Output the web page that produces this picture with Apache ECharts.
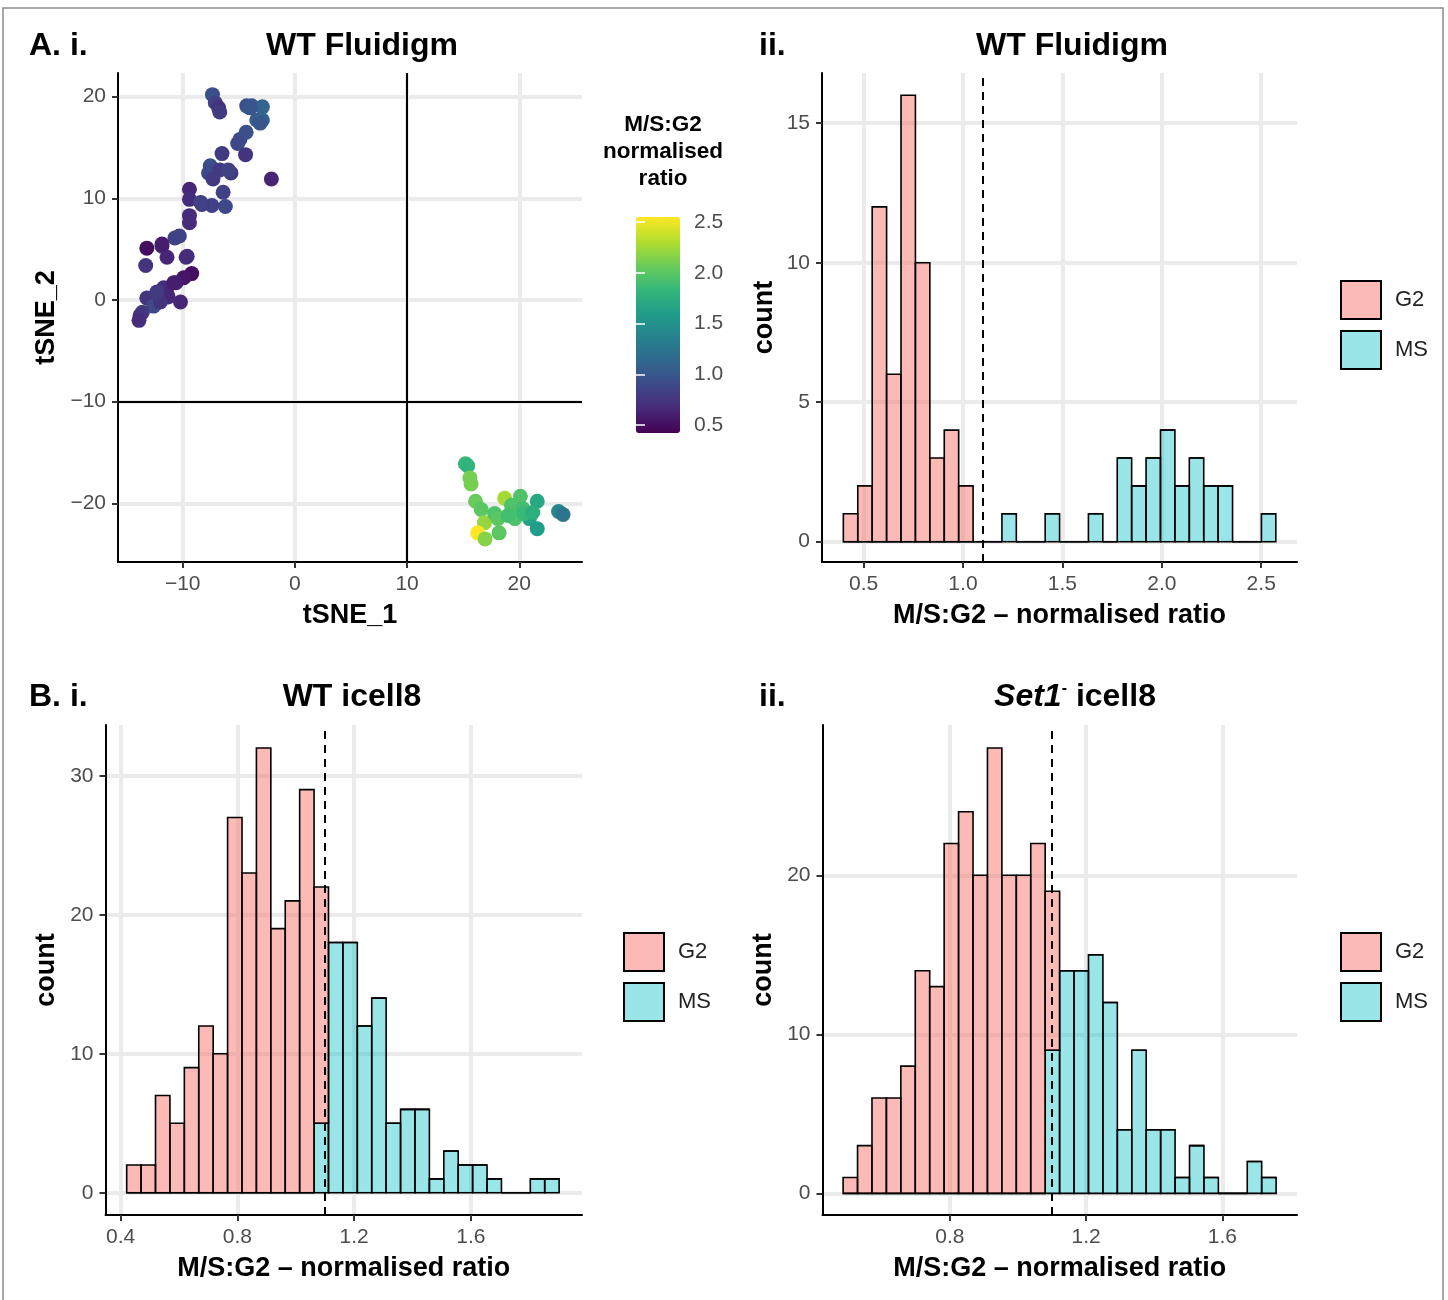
<!DOCTYPE html>
<html>
<head>
<meta charset="utf-8">
<script src="https://cdn.jsdelivr.net/npm/echarts@6/dist/echarts.min.js"></script>
<style>
  html, body { margin: 0; padding: 0; background: #fff; }
  #chart { width: 1448px; height: 1300px; }
</style>
</head>
<body>
<div id="chart"></div>
<script>
// A.i  tSNE of WT Fluidigm cells: [tSNE_1, tSNE_2, M/S:G2 ratio]
const upperCells = [
  [-7.35, 20.2, 0.95], [-7.1, 19.4, 0.85], [-6.8, 18.9, 0.75], [-6.7, 18.5, 0.8],
  [-4.3, 19.1, 0.95], [-3.85, 19.1, 1.0], [-2.9, 19.0, 1.1], [-3.4, 17.7, 1.05],
  [-2.9, 17.7, 1.1], [-3.1, 17.4, 1.0], [-4.35, 16.5, 0.95], [-4.9, 15.8, 0.95],
  [-5.1, 15.4, 0.9], [-4.4, 14.3, 0.75], [-6.5, 14.4, 0.8], [-2.1, 11.9, 0.65],
  [-7.55, 13.2, 0.95], [-7.7, 12.5, 0.9], [-7.3, 11.9, 0.8], [-6.7, 12.8, 0.8],
  [-5.7, 12.5, 0.8], [-5.95, 12.8, 0.85], [-6.4, 10.6, 0.85], [-6.2, 9.2, 0.9],
  [-7.4, 9.3, 0.85], [-8.3, 9.4, 0.8], [-9.4, 10.9, 0.65], [-9.4, 9.9, 0.7],
  [-9.4, 8.3, 0.7], [-9.4, 7.6, 0.7], [-10.7, 6.1, 0.85], [-10.3, 6.3, 0.85],
  [-11.85, 5.3, 0.7], [-13.2, 5.1, 0.5], [-11.4, 4.2, 0.65], [-9.7, 4.2, 0.75],
  [-13.3, 3.4, 0.75], [-9.2, 2.6, 0.5], [-9.9, 2.2, 0.55], [-10.6, 1.7, 0.6],
  [-11.7, 1.2, 0.7], [-13.2, 0.2, 0.75], [-12.6, -0.6, 0.9], [-11.3, 0.3, 0.7],
  [-10.2, -0.2, 0.65], [-13.6, -1.2, 0.8], [-13.8, -1.5, 0.75], [-13.9, -2.0, 0.7],
  [-11.4, 0.6, 0.65], [-10.8, 1.7, 0.6], [-12.0, -0.2, 0.75], [-9.6, 4.3, 0.7],
  [-11.85, 5.5, 0.6], [-8.4, 9.6, 0.85], [-12.3, 0.8, 0.8], [-4.0, 18.9, 1.0]
];
const lowerCells = [
  [15.2, -16.1, 1.85], [15.4, -16.3, 1.8], [15.6, -17.5, 2.1], [15.7, -18.1, 2.1],
  [16.1, -19.8, 2.05], [16.6, -20.6, 2.0], [18.7, -19.5, 2.25], [20.1, -19.3, 1.95],
  [21.6, -19.8, 1.7], [23.5, -20.8, 1.4], [23.9, -21.1, 1.25], [16.9, -21.9, 2.2],
  [16.3, -22.9, 2.54], [16.95, -23.5, 2.15], [17.8, -21.0, 1.95], [18.1, -21.5, 2.0],
  [18.2, -22.9, 2.0], [19.3, -20.2, 1.95], [19.6, -21.5, 1.95], [20.3, -20.5, 1.9],
  [20.9, -21.5, 1.65], [21.6, -22.5, 1.6], [20.4, -21.0, 1.85], [19.0, -21.2, 1.9],
  [21.2, -20.9, 1.75]
];
const ratioRange = [0.43, 2.54];
const viridis = ['#440154', '#482878', '#3E4989', '#31688E', '#26828E',
  '#1F9E89', '#35B779', '#6DCD59', '#B4DE2C', '#FDE725'];

// histograms: 30 bins each, counts per group
const fluidigmBinStart = 0.3984;
const fluidigmBinWidth = 0.0725;
const fluidigmG2 = [1, 2, 12, 6, 16, 10, 3, 4, 2, 0, 0, 0, 0, 0, 0, 0, 0, 0, 0, 0, 0, 0, 0, 0, 0, 0, 0, 0, 0, 0];
const fluidigmMS = [0, 0, 0, 0, 0, 0, 0, 0, 0, 0, 0, 1, 0, 0, 1, 0, 0, 1, 0, 3, 2, 3, 4, 2, 3, 2, 2, 0, 0, 1];

const wtIcellBinStart = 0.4206;
const wtIcellBinWidth = 0.0494;
const wtIcellG2 = [2, 2, 7, 5, 9, 12, 10, 27, 23, 32, 19, 21, 29, 17, 0, 0, 0, 0, 0, 0, 0, 0, 0, 0, 0, 0, 0, 0, 0, 0];
const wtIcellMS = [0, 0, 0, 0, 0, 0, 0, 0, 0, 0, 0, 0, 0, 5, 18, 18, 12, 14, 5, 6, 6, 1, 3, 2, 2, 1, 0, 0, 1, 1];

const setIcellBinStart = 0.4866;
const setIcellBinWidth = 0.04237;
const setIcellG2 = [1, 3, 6, 6, 8, 14, 13, 22, 24, 20, 28, 20, 20, 22, 10, 0, 0, 0, 0, 0, 0, 0, 0, 0, 0, 0, 0, 0, 0, 0];
const setIcellMS = [0, 0, 0, 0, 0, 0, 0, 0, 0, 0, 0, 0, 0, 0, 9, 14, 14, 15, 12, 4, 9, 4, 4, 1, 3, 1, 0, 0, 2, 1];

const cutoff = 1.1;

const tsneTicks = [-10, 0, 10, 20];
const tsneYTicks = [-20, -10, 0, 10, 20];
const fluidigmXTicks = [0.5, 1.0, 1.5, 2.0, 2.5];
const fluidigmYTicks = [0, 5, 10, 15];
const wtIcellXTicks = [0.4, 0.8, 1.2, 1.6];
const setIcellXTicks = [0.8, 1.2, 1.6];
const icellYTicks = [0, 10, 20, 30];
const setIcellYTicks = [0, 10, 20];

const FONT = 'Liberation Sans, Arial, Helvetica, sans-serif';
const G2_FILL = 'rgba(248,118,109,0.5)';
const MS_FILL = 'rgba(0,191,196,0.4)';

const minus = (v) => (v < 0 ? '\u2212' + Math.abs(v) : String(v));
const oneDec = (v) => v.toFixed(1);

function valueAxis(gridIndex, min, max, ticks, fmt, extra) {
  return Object.assign({
    type: 'value', gridIndex, min, max,
    axisLine: { show: true, onZero: false, lineStyle: { color: '#000', width: 2 } },
    axisTick: { show: true, length: 6, customValues: ticks, lineStyle: { color: '#333', width: 2 } },
    axisLabel: { customValues: ticks, formatter: fmt, color: '#4d4d4d', fontSize: 21, fontFamily: FONT, margin: 12 },
    splitLine: { show: true, lineStyle: { color: '#EBEBEB', width: 4 } },
    nameLocation: 'middle',
    nameMoveOverlap: false,
    nameTextStyle: { fontSize: 27, fontWeight: 'bold', color: '#000', fontFamily: FONT }
  }, extra || {});
}

function histSeries(name, axisIndex, start, width, counts, below, fill, withCutoff) {
  const data = counts.map((c, i) => {
    const b = below ? below[i] : 0;
    return [start + i * width, start + (i + 1) * width, b, b + c];
  });
  const s = {
    type: 'custom', name,
    xAxisIndex: axisIndex, yAxisIndex: axisIndex,
    itemStyle: { color: fill },
    encode: { x: [0, 1], y: [2, 3] },
    renderItem(params, api) {
      const p0 = api.coord([api.value(0), api.value(2)]);
      const p1 = api.coord([api.value(1), api.value(3)]);
      return {
        type: 'rect',
        shape: { x: p0[0], y: p1[1], width: p1[0] - p0[0], height: p0[1] - p1[1] },
        style: { fill, stroke: '#000', lineWidth: 1.6 }
      };
    },
    data
  };
  if (withCutoff) {
    s.markLine = {
      silent: true, symbol: 'none', label: { show: false },
      lineStyle: { color: '#000', width: 2, type: [8, 6] },
      data: [{ xAxis: cutoff }]
    };
  }
  return s;
}

function legendAt(left, top) {
  return {
    left, top, orient: 'vertical', padding: 0,
    icon: 'rect',
    itemWidth: 40, itemHeight: 38, itemGap: 10,
    selectedMode: false,
    data: ['G2', 'MS'],
    itemStyle: { borderColor: '#000', borderWidth: 2 },
    textStyle: { fontSize: 22, color: '#222', fontFamily: FONT, padding: [0, 0, 0, 9] }
  };
}

const titleStyle = { fontSize: 32, fontWeight: 'bold', color: '#000', fontFamily: FONT };

const chart = echarts.init(document.getElementById('chart'), null, { renderer: 'canvas' });

chart.setOption({
  animation: false,
  backgroundColor: '#fff',
  textStyle: { fontFamily: FONT },
  graphic: [{
    type: 'rect', silent: true,
    shape: { x: 3, y: 8, width: 1440, height: 1300 },
    style: { fill: 'none', stroke: '#8a8a8a', lineWidth: 1.5 }
  }],
  title: [
    { text: 'A. i.', left: 24, top: 25, textStyle: titleStyle },
    { text: 'WT Fluidigm', left: 357, top: 25, textAlign: 'center', textStyle: titleStyle },
    { text: 'ii.', left: 754, top: 25, textStyle: titleStyle },
    { text: 'WT Fluidigm', left: 1067, top: 25, textAlign: 'center', textStyle: titleStyle },
    { text: 'B. i.', left: 24, top: 676, textStyle: titleStyle },
    { text: 'WT icell8', left: 347, top: 676, textAlign: 'center', textStyle: titleStyle },
    { text: 'ii.', left: 754, top: 676, textStyle: titleStyle },
    {
      text: '{i|Set1}{s|-} icell8', left: 1070, top: 676, textAlign: 'center',
      textStyle: Object.assign({}, titleStyle, {
        rich: {
          i: { fontSize: 32, fontWeight: 'bold', fontStyle: 'italic', fontFamily: FONT },
          s: { fontSize: 16, fontWeight: 'bold', fontFamily: FONT, verticalAlign: 'top', padding: [0, 0, 14, 0] }
        }
      })
    },
    {
      text: 'M/S:G2\nnormalised\nratio', left: 658, top: 106, textAlign: 'center',
      textStyle: { fontSize: 22.5, fontWeight: 'bold', color: '#000', fontFamily: FONT, lineHeight: 27 }
    }
  ],
  grid: [
    { left: 118, top: 73, width: 464, height: 489, outerBoundsMode: 'none' },
    { left: 822, top: 73, width: 475, height: 489, outerBoundsMode: 'none' },
    { left: 105.5, top: 725, width: 476.5, height: 490, outerBoundsMode: 'none' },
    { left: 822.5, top: 725, width: 474.5, height: 490, outerBoundsMode: 'none' },
    { left: 636, top: 222, width: 44, height: 203, outerBoundsMode: 'none' }
  ],
  xAxis: [
    valueAxis(0, -15.77, 25.59, tsneTicks, minus, { name: 'tSNE_1', nameGap: 40 }),
    valueAxis(1, 0.291, 2.68, fluidigmXTicks, oneDec, { name: 'M/S:G2 \u2013 normalised ratio', nameGap: 40 }),
    valueAxis(2, 0.348, 1.981, wtIcellXTicks, oneDec, { name: 'M/S:G2 \u2013 normalised ratio', nameGap: 40 }),
    valueAxis(3, 0.4261, 1.819, setIcellXTicks, oneDec, { name: 'M/S:G2 \u2013 normalised ratio', nameGap: 40 }),
    { type: 'value', gridIndex: 4, min: 0, max: 1, show: false }
  ],
  yAxis: [
    valueAxis(0, -25.77, 22.33, tsneYTicks, minus, { name: 'tSNE_2', nameGap: 58 }),
    valueAxis(1, -0.728, 16.8, fluidigmYTicks, String, { name: 'count', nameGap: 44 }),
    valueAxis(2, -1.6, 33.65, icellYTicks, String, { name: 'count', nameGap: 45 }),
    valueAxis(3, -1.36, 29.45, setIcellYTicks, String, { name: 'count', nameGap: 45 }),
    {
      type: 'value', gridIndex: 4, min: 0.5, max: 2.5, interval: 0.5, position: 'right', z: 10,
      axisLine: { show: false },
      axisTick: { show: true, inside: true, length: 9, lineStyle: { color: '#fff', width: 1.5 } },
      axisLabel: { formatter: oneDec, color: '#4d4d4d', fontSize: 21, fontFamily: FONT, margin: 14 },
      splitLine: { show: false }
    },
    {
      type: 'value', gridIndex: 4, min: 0.5, max: 2.5, interval: 0.5, position: 'left', z: 10,
      axisLine: { show: false },
      axisTick: { show: true, inside: true, length: 9, lineStyle: { color: '#fff', width: 1.5 } },
      axisLabel: { show: false },
      splitLine: { show: false }
    }
  ],
  visualMap: {
    type: 'continuous',
    min: ratioRange[0], max: ratioRange[1],
    dimension: 2, seriesIndex: 0,
    calculable: false, hoverLink: false,
    left: 636, top: 217, padding: 0,
    itemWidth: 44, itemHeight: 216,
    text: null,
    inRange: { color: viridis }
  },
  legend: [legendAt(1340, 280), legendAt(623, 932), legendAt(1340, 932)],
  series: [
    {
      type: 'scatter', name: 'cells',
      xAxisIndex: 0, yAxisIndex: 0,
      symbolSize: 15,
      itemStyle: { opacity: 1 },
      data: upperCells.concat(lowerCells),
      markLine: {
        silent: true, symbol: 'none', label: { show: false },
        lineStyle: { color: '#000', width: 2, type: 'solid' },
        data: [{ xAxis: 10 }, { yAxis: -10 }]
      }
    },
    histSeries('MS', 1, fluidigmBinStart, fluidigmBinWidth, fluidigmMS, null, MS_FILL, false),
    histSeries('G2', 1, fluidigmBinStart, fluidigmBinWidth, fluidigmG2, fluidigmMS, G2_FILL, true),
    histSeries('MS', 2, wtIcellBinStart, wtIcellBinWidth, wtIcellMS, null, MS_FILL, false),
    histSeries('G2', 2, wtIcellBinStart, wtIcellBinWidth, wtIcellG2, wtIcellMS, G2_FILL, true),
    histSeries('MS', 3, setIcellBinStart, setIcellBinWidth, setIcellMS, null, MS_FILL, false),
    histSeries('G2', 3, setIcellBinStart, setIcellBinWidth, setIcellG2, setIcellMS, G2_FILL, true)
  ]
});
</script>
</body>
</html>
